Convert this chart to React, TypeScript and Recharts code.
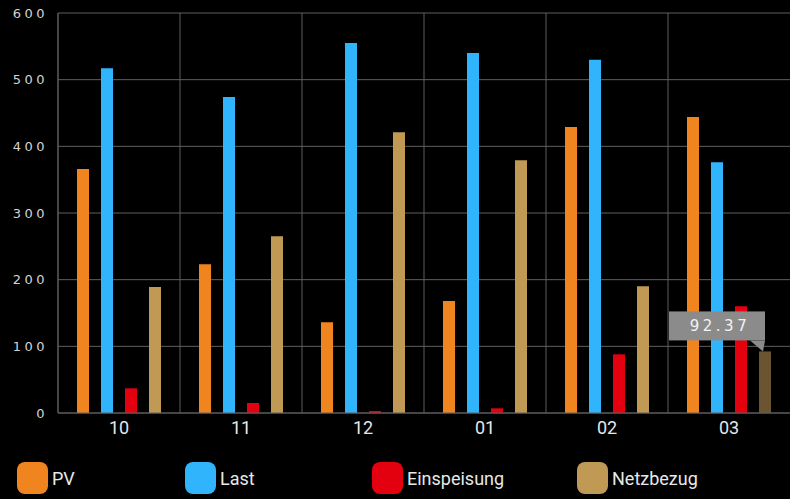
import React from 'react';
import { BarChart, Bar, XAxis, YAxis, CartesianGrid, Cell, LabelList } from 'recharts';

const months = ['10', '11', '12', '01', '02', '03'];
const pv = [366, 223, 136, 168, 429, 444];
const last = [517, 474, 555, 540, 530, 376];
const einspeisung = [37, 15, 3, 7, 88, 160];
const netzbezug = [189, 265, 421, 379, 190, 92.37];
const yTicks = [0, 100, 200, 300, 400, 500, 600];

const highlightIndex = 5;

const series = [
  { key: 'pv', name: 'PV', color: '#f0851f' },
  { key: 'last', name: 'Last', color: '#30b5fd' },
  { key: 'einspeisung', name: 'Einspeisung', color: '#e3000f' },
  { key: 'netzbezug', name: 'Netzbezug', color: '#c09955' },
];

// legend square left edges (layout only)
const legendLeft = [17, 185, 372, 577];

const data = months.map((m, i) => ({
  month: m,
  pv: pv[i],
  last: last[i],
  einspeisung: einspeisung[i],
  netzbezug: netzbezug[i],
}));

const gridColor = '#5f5f5f';

const ValueBubble = (props: any) => {
  const { x, y, width, value, index } = props;
  if (index !== highlightIndex) return null;
  const cx = x + width / 2;
  const boxRight = cx;
  const boxLeft = boxRight - 96;
  const boxBottom = y - 11;
  const boxTop = boxBottom - 29;
  return (
    <g>
      <rect x={boxLeft} y={boxTop} width={96} height={29} fill="#8b8b8b" />
      <polygon points={`${boxRight - 15},${boxBottom} ${boxRight},${boxBottom} ${boxRight - 2},${y}`} fill="#8b8b8b" />
      <text
        x={(boxLeft + boxRight) / 2 + 3}
        y={boxTop + 15}
        textAnchor="middle"
        dominantBaseline="central"
        fill="#f2f2f2"
        fontFamily="DejaVu Sans"
        fontSize={15}
        letterSpacing={3.5}
      >
        {Number(value).toFixed(2)}
      </text>
    </g>
  );
};

export default function App() {
  return (
    <div style={{ position: 'absolute', left: 0, top: 0, width: 790, height: 499, background: '#000', overflow: 'hidden' }}>
      <BarChart
        width={790}
        height={499}
        data={data}
        margin={{ top: 13, right: 0, left: 0, bottom: 56 }}
        barSize={12}
        barGap={12}
      >
        <CartesianGrid
          stroke={gridColor}
          strokeWidth={1}
          verticalCoordinatesGenerator={({ offset }: any) =>
            months.map((_, i) => offset.left + (i * offset.width) / months.length)
          }
        />
        <XAxis
          dataKey="month"
          stroke={gridColor}
          tickLine={false}
          tickMargin={2}
          height={30}
          tick={{ fill: '#e6e6e6', fontSize: 18, fontFamily: 'Roboto' }}
        />
        <YAxis
          domain={[0, 600]}
          ticks={yTicks}
          width={58}
          stroke={gridColor}
          tickLine={false}
          tickMargin={4}
          tick={{ fill: '#d4d4d4', fontSize: 13, fontFamily: 'DejaVu Sans', letterSpacing: 3.5 }}
        />
        <Bar dataKey="pv" name="PV" fill={series[0].color} isAnimationActive={false} />
        <Bar dataKey="last" name="Last" fill={series[1].color} isAnimationActive={false} />
        <Bar dataKey="einspeisung" name="Einspeisung" fill={series[2].color} isAnimationActive={false} />
        <Bar dataKey="netzbezug" name="Netzbezug" fill={series[3].color} isAnimationActive={false}>
          {data.map((_, i) => (
            <Cell key={i} fill={i === highlightIndex ? '#6b5530' : series[3].color} />
          ))}
          <LabelList dataKey="netzbezug" content={ValueBubble} />
        </Bar>
      </BarChart>
      {series.map((s, i) => (
        <div
          key={s.key}
          style={{ position: 'absolute', left: legendLeft[i], top: 462, height: 32, display: 'flex', alignItems: 'center' }}
        >
          <div style={{ width: 31, height: 32, borderRadius: 8, background: s.color }} />
          <span style={{ marginLeft: 4, color: '#e8e8e8', fontFamily: 'Roboto', fontSize: 18 }}>{s.name}</span>
        </div>
      ))}
    </div>
  );
}
